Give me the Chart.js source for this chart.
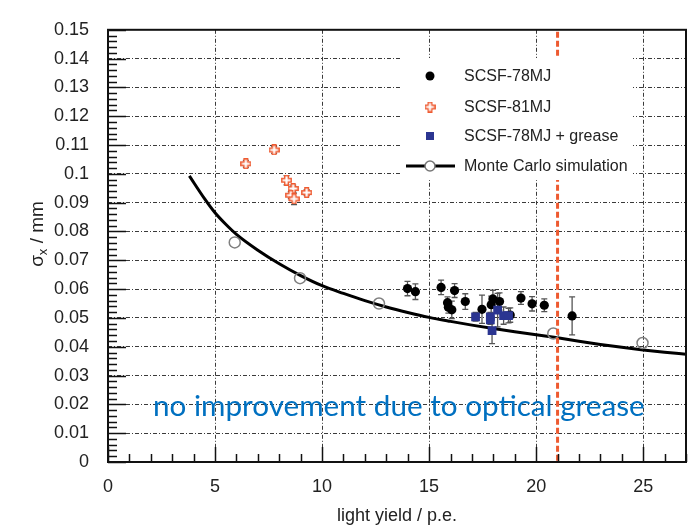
<!DOCTYPE html>
<html>
<head>
<meta charset="utf-8">
<script src="https://cdn.jsdelivr.net/npm/chart.js@4/dist/chart.umd.min.js"></script>
<style>
html,body{margin:0;padding:0;background:#fff;}
#wrap{width:693px;height:527px;}
</style>
</head>
<body>
<div id="wrap"><canvas id="c" width="693" height="527"></canvas></div>
<script>
// ---------- data ----------
const xTickValues = [0, 5, 10, 15, 20, 25];
const xTickLabels = ["0", "5", "10", "15", "20", "25"];
const yTickValues = [0, 0.01, 0.02, 0.03, 0.04, 0.05, 0.06, 0.07, 0.08, 0.09, 0.1, 0.11, 0.12, 0.13, 0.14, 0.15];
const yTickLabels = ["0", "0.01", "0.02", "0.03", "0.04", "0.05", "0.06", "0.07", "0.08", "0.09", "0.1", "0.11", "0.12", "0.13", "0.14", "0.15"];
const xTitle = "light yield / p.e.";
const yTitleMain = "σ";
const yTitleSub = "x";
const yTitleRest = " / mm";
const noteText = "no improvement due to optical grease";
const thresholdX = 21;

const labels78 = "SCSF-78MJ";
const x78 = [13.99, 14.36, 15.56, 15.86, 15.90, 16.06, 16.19, 16.69, 17.47, 17.90, 17.98, 18.29, 18.79, 19.29, 19.81, 20.38, 21.68];
const y78 = [0.0602, 0.0591, 0.0606, 0.0553, 0.0537, 0.0528, 0.0595, 0.0557, 0.0530, 0.0546, 0.0566, 0.0557, 0.0510, 0.0569, 0.0549, 0.0544, 0.0507];
const e78 = [0.0025, 0.0027, 0.0025, 0.0020, 0.0020, 0.0030, 0.0024, 0.0027, 0.0049, 0.0030, 0.0030, 0.0030, 0.0025, 0.0022, 0.0025, 0.0022, 0.0066];

const labels81 = "SCSF-81MJ";
const x81 = [7.76, 6.44, 8.34, 8.65, 9.28, 8.54, 8.69];
const y81 = [0.1083, 0.1035, 0.0978, 0.0949, 0.0935, 0.0926, 0.0913];
const e81 = [0.0012, 0.0012, 0.0016, 0.0012, 0.0010, 0.0012, 0.0020];

const labelsGrease = "SCSF-78MJ + grease";
const xGrease = [17.17, 17.86, 17.94, 18.20, 18.48, 18.71, 17.86];
const yGrease = [0.0504, 0.0504, 0.0456, 0.0527, 0.0508, 0.0508, 0.0493];
const eGrease = [0.0015, 0.0015, 0.0045, 0.0058, 0.0030, 0.0025, 0.0015];

const labelsMC = "Monte Carlo simulation";
const xMC = [5.92, 8.97, 12.66, 20.80, 24.97];
const yMC = [0.0762, 0.0638, 0.0550, 0.0446, 0.0413];
const xCurve = [3.8, 4.5, 5, 5.5, 6, 7, 8, 9, 10, 11, 12, 13, 14, 15, 16, 17, 18, 19, 20, 21, 22, 23, 24, 25, 26, 27];
const yCurve = [0.0993, 0.0915, 0.0865, 0.0825, 0.0790, 0.0735, 0.0688, 0.0647, 0.0612, 0.0585, 0.0560, 0.0538, 0.0519, 0.0502, 0.0488, 0.0475, 0.0463, 0.0452, 0.0442, 0.0431, 0.0419, 0.0408, 0.0398, 0.0389, 0.0381, 0.0374];

// ---------- styles ----------
const FONT = "'Liberation Sans', Arial, sans-serif";
const TXT = "#222";
const RED = "#ee5a30";
const BLUE = "#2b3591";
const pts = (xs, ys) => xs.map((x, i) => ({x: x, y: ys[i]}));

function makeCross() {
  const c = document.createElement('canvas');
  c.width = 11; c.height = 11;
  const g = c.getContext('2d');
  const a = 3.7, b = 7.3, lo = 0.8, hi = 10.2;
  g.beginPath();
  g.moveTo(a, lo); g.lineTo(b, lo); g.lineTo(b, a); g.lineTo(hi, a); g.lineTo(hi, b);
  g.lineTo(b, b); g.lineTo(b, hi); g.lineTo(a, hi); g.lineTo(a, b); g.lineTo(lo, b);
  g.lineTo(lo, a); g.lineTo(a, a); g.closePath();
  g.fillStyle = "#fff"; g.fill();
  g.strokeStyle = RED; g.lineWidth = 1.4; g.stroke();
  return c;
}
const crossImg = makeCross();

// ---------- plugins ----------
const errorBars = {
  id: 'errorBars',
  beforeDatasetsDraw(chart) {
    const ctx = chart.ctx, xs = chart.scales.x, ys = chart.scales.y;
    const sets = [[x78, y78, e78], [x81, y81, e81], [xGrease, yGrease, eGrease]];
    ctx.save();
    ctx.strokeStyle = "#555";
    ctx.lineWidth = 1.3;
    sets.forEach(([X, Y, E]) => {
      X.forEach((xv, i) => {
        const px = xs.getPixelForValue(xv);
        const p1 = ys.getPixelForValue(Y[i] + E[i]);
        const p2 = ys.getPixelForValue(Y[i] - E[i]);
        ctx.beginPath();
        ctx.moveTo(px, p1); ctx.lineTo(px, p2);
        ctx.moveTo(px - 3, p1); ctx.lineTo(px + 3, p1);
        ctx.moveTo(px - 3, p2); ctx.lineTo(px + 3, p2);
        ctx.stroke();
      });
    });
    ctx.restore();
  }
};

const decorations = {
  id: 'decorations',
  afterDatasetsDraw(chart) {
    const ctx = chart.ctx, xs = chart.scales.x, ys = chart.scales.y;
    const a = chart.chartArea;
    ctx.save();
    // red threshold line
    const rx = xs.getPixelForValue(thresholdX);
    ctx.strokeStyle = RED; ctx.lineWidth = 3; ctx.setLineDash([6, 3]);
    ctx.beginPath(); ctx.moveTo(rx, a.top + 2); ctx.lineTo(rx, a.bottom); ctx.stroke();
    ctx.setLineDash([]);
    // minor and major ticks (inward)
    ctx.strokeStyle = "#111"; ctx.lineWidth = 1.5;
    ctx.beginPath();
    for (let v = 0; v <= 27; v++) {
      const px = Math.round(xs.getPixelForValue(v)) + 0.5;
      const len = (v % 5 === 0) ? 15 : 8;
      ctx.moveTo(px, a.bottom); ctx.lineTo(px, a.bottom - len);
    }
    for (let k = 0; k <= 75; k++) {
      const py = Math.round(ys.getPixelForValue(k * 0.002)) + 0.5;
      const len = (k % 5 === 0) ? 18 : 9;
      ctx.moveTo(a.left, py); ctx.lineTo(a.left + len, py);
    }
    ctx.stroke();
    // frame
    ctx.strokeStyle = "#111"; ctx.lineWidth = 2;
    ctx.strokeRect(a.left, a.top, a.right - a.left, a.bottom - a.top);

    // legend (white box)
    ctx.fillStyle = "#fff";
    ctx.fillRect(402, 58, 231, 122);
    const lx = 430, tx = 464;
    const rows = [76, 107, 136, 166];
    ctx.font = "16px " + FONT; ctx.fillStyle = TXT; ctx.textBaseline = "middle"; ctx.textAlign = "left";
    ctx.fillText(labels78, tx, rows[0] + 1);
    ctx.fillText(labels81, tx, rows[1] + 1);
    ctx.fillText(labelsGrease, tx, rows[2] + 1);
    ctx.fillText(labelsMC, tx, rows[3] + 1);
    ctx.fillStyle = "#000";
    ctx.beginPath(); ctx.arc(lx, rows[0], 4.5, 0, Math.PI * 2); ctx.fill();
    ctx.drawImage(crossImg, lx - 5.5, rows[1] - 5.5);
    ctx.fillStyle = BLUE; ctx.fillRect(lx - 4, rows[2] - 4, 8, 8);
    ctx.strokeStyle = "#000"; ctx.lineWidth = 3;
    ctx.beginPath(); ctx.moveTo(406, rows[3]); ctx.lineTo(455, rows[3]); ctx.stroke();
    ctx.fillStyle = "#fff"; ctx.strokeStyle = "#777"; ctx.lineWidth = 1.5;
    ctx.beginPath(); ctx.arc(lx, rows[3], 5, 0, Math.PI * 2); ctx.fill(); ctx.stroke();

    // annotation
    ctx.fillStyle = "#0070c0"; ctx.textBaseline = "alphabetic";
    let fs = 26;
    ctx.font = fs + "px Lato, 'Open Sans', sans-serif";
    const w = ctx.measureText(noteText).width;
    fs = fs * 492 / w;
    ctx.font = fs.toFixed(2) + "px Lato, 'Open Sans', sans-serif";
    ctx.fillText(noteText, 153, 416);

    // y title with subscript
    ctx.save();
    ctx.translate(36, 234);
    ctx.rotate(-Math.PI / 2);
    ctx.fillStyle = TXT;
    ctx.textBaseline = "alphabetic";
    const f1 = "19px " + FONT, f2 = "13px " + FONT;
    ctx.font = f1; const w1 = ctx.measureText(yTitleMain).width; const w3 = ctx.measureText(yTitleRest).width;
    ctx.font = f2; const w2 = ctx.measureText(yTitleSub).width;
    let x0 = -(w1 + w2 + w3) / 2;
    ctx.font = f1; ctx.fillText(yTitleMain, x0, 7);
    ctx.font = f2; ctx.fillText(yTitleSub, x0 + w1, 11);
    ctx.font = f1; ctx.fillText(yTitleRest, x0 + w1 + w2, 7);
    ctx.restore();
    ctx.restore();
  }
};

// ---------- chart ----------
const chart = new Chart(document.getElementById('c'), {
  type: 'scatter',
  data: {
    datasets: [
      {label: labelsGrease, data: pts(xGrease, yGrease), pointStyle: 'rect', pointRadius: 6.2,
       backgroundColor: BLUE, borderColor: BLUE, borderWidth: 0, order: 1},
      {label: labels78, data: pts(x78, y78), pointStyle: 'circle', pointRadius: 4.6,
       backgroundColor: '#000', borderColor: '#000', borderWidth: 0, order: 2},
      {label: labels81, data: pts(x81, y81), pointStyle: crossImg, order: 3},
      {label: labelsMC + " points", data: pts(xMC, yMC), pointStyle: 'circle', pointRadius: 5.5,
       backgroundColor: 'rgba(0,0,0,0)', borderColor: '#808080', borderWidth: 1.5, order: 4},
      {label: labelsMC, type: 'line', data: pts(xCurve, yCurve), showLine: true, pointRadius: 0,
       borderColor: '#000', borderWidth: 3, cubicInterpolationMode: 'monotone', fill: false, order: 5}
    ]
  },
  options: {
    responsive: false,
    devicePixelRatio: 1,
    animation: false,
    events: [],
    layout: {padding: {top: 15, right: 7, left: 0, bottom: 0}},
    plugins: {legend: {display: false}, tooltip: {enabled: false}},
    scales: {
      x: {
        type: 'linear', min: 0, max: 27,
        afterBuildTicks: s => { s.ticks = xTickValues.map(v => ({value: v})); },
        afterFit: s => { s.height = 65; },
        ticks: {font: {family: FONT, size: 18}, color: TXT, padding: 14,
                callback: (v, i) => xTickLabels[i]},
        grid: {color: '#3a3a3a', lineWidth: 1, drawTicks: false},
        border: {display: false, dash: [4, 2, 1, 2]},
        title: {display: true, text: xTitle, font: {family: FONT, size: 18}, color: TXT, padding: {top: 4, bottom: 0}}
      },
      y: {
        type: 'linear', min: 0, max: 0.15,
        afterBuildTicks: s => { s.ticks = yTickValues.map(v => ({value: v})); },
        afterFit: s => { s.width = 108; },
        ticks: {font: {family: FONT, size: 18}, color: TXT, padding: 19,
                callback: (v, i) => yTickLabels[i]},
        grid: {color: '#3a3a3a', lineWidth: 1, drawTicks: false},
        border: {display: false, dash: [4, 2, 1, 2]}
      }
    }
  },
  plugins: [errorBars, decorations]
});
</script>
</body>
</html>
